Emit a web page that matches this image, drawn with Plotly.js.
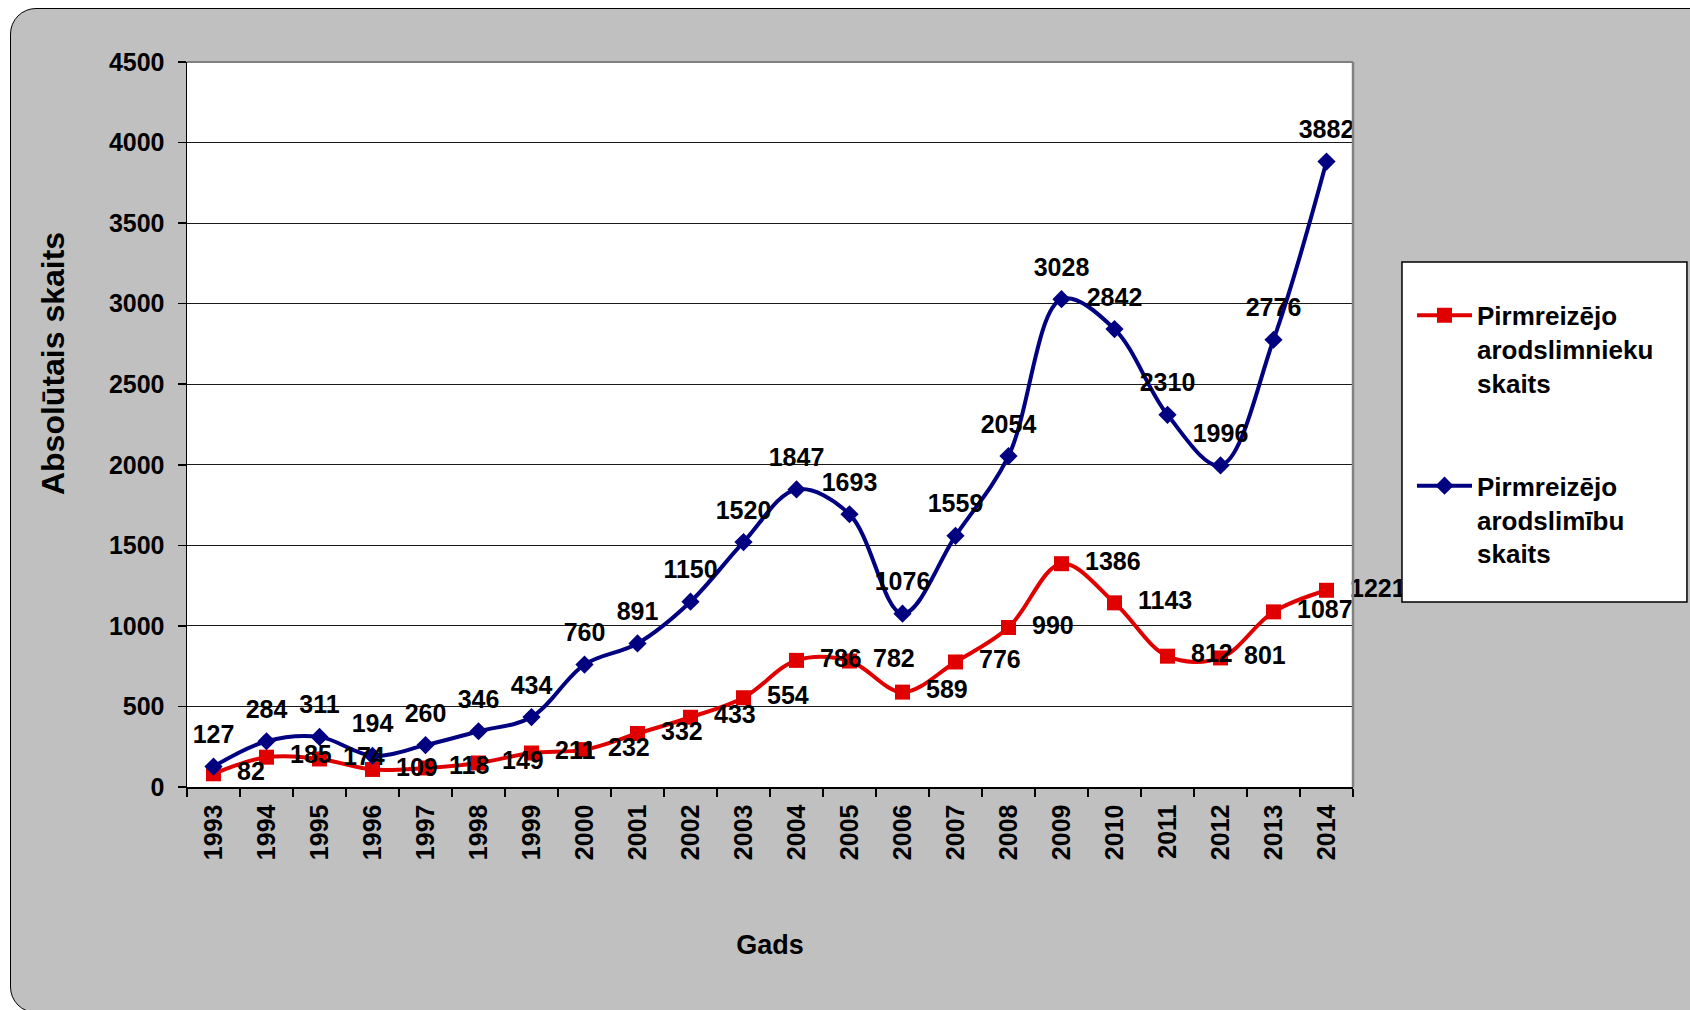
<!DOCTYPE html>
<html>
<head>
<meta charset="utf-8">
<script src="https://cdn.plot.ly/plotly-3.0.1.min.js"></script>
<style>
  html, body { margin: 0; padding: 0; background: #ffffff; overflow: hidden; width: 1690px; height: 1010px; }
  #frame { position: absolute; left: 10px; top: 8px; width: 1720px; height: 1003px; background: #C0C0C0; border: 1.5px solid #000; border-radius: 26px; }
  #chart { position: absolute; left: 0; top: 0; width: 1690px; height: 1010px; }
</style>
</head>
<body>
<div id="frame"></div>
<div id="chart"></div>
<script>
// Data
const years = ['1993','1994','1995','1996','1997','1998','1999','2000','2001','2002','2003',
               '2004','2005','2006','2007','2008','2009','2010','2011','2012','2013','2014'];
const arodslimniekuSkaits = [82,185,174,109,118,149,211,232,332,433,554,786,782,589,776,990,1386,1143,812,801,1087,1221];
const arodslimibuSkaits = [127,284,311,194,260,346,434,760,891,1150,1520,1847,1693,1076,1559,2054,3028,2842,2310,1996,2776,3882];
const seriesNames = ['Pirmreizējo<br>arodslimnieku<br>skaits', 'Pirmreizējo<br>arodslimību<br>skaits'];
const yTicks = [0,500,1000,1500,2000,2500,3000,3500,4000,4500];

const FAM = '"Liberation Sans", Arial, Helvetica, sans-serif';
const bold = (size) => ({family: FAM, size: size, color: '#000000', weight: 'bold'});
const RED = '#E00000', BLUE = '#000080';

const traceRed = {
  type: 'scatter', mode: 'lines+markers',
  x: years, y: arodslimniekuSkaits,
  name: seriesNames[0], legendgroup: 'a',
  line: {color: RED, width: 4, shape: 'spline', smoothing: 1},
  marker: {symbol: 'square', size: 15, color: RED},
  hoverinfo: 'x+y'
};
const traceBlue = {
  type: 'scatter', mode: 'lines+markers',
  x: years, y: arodslimibuSkaits,
  name: seriesNames[1], legendgroup: 'b',
  line: {color: BLUE, width: 4, shape: 'spline', smoothing: 1},
  marker: {symbol: 'diamond', size: 14, color: BLUE},
  hoverinfo: 'x+y'
};
// Data labels (same data; invisible markers only set the label offset)
const labelsRed = {
  type: 'scatter', mode: 'text+markers', x: years, y: arodslimniekuSkaits,
  text: arodslimniekuSkaits.map(String), textposition: 'middle right',
  textfont: bold(25), marker: {size: 36, opacity: 0, color: RED},
  cliponaxis: false, showlegend: false, hoverinfo: 'skip'
};
const labelsBlue = {
  type: 'scatter', mode: 'text+markers', x: years, y: arodslimibuSkaits,
  text: arodslimibuSkaits.map(String), textposition: 'top center',
  textfont: bold(25), marker: {size: 26, opacity: 0, color: BLUE},
  cliponaxis: false, showlegend: false, hoverinfo: 'skip'
};

const layout = {
  width: 1690, height: 1010, autosize: false,
  margin: {l: 187, r: 337, t: 62, b: 223, pad: 0},
  paper_bgcolor: 'rgba(0,0,0,0)', plot_bgcolor: '#ffffff',
  font: {family: FAM, color: '#000000', weight: 'bold'},
  showlegend: true,
  xaxis: {
    type: 'category', range: [-0.5, 21.5], tickson: 'boundaries',
    ticks: 'outside', ticklen: 8, tickwidth: 1.5, tickcolor: '#000000',
    showline: true, linecolor: '#000000', linewidth: 1.5, showgrid: false,
    tickangle: -90, tickfont: bold(25), ticklabelstandoff: 6,
    title: {text: 'Gads', font: bold(27), standoff: 76}
  },
  yaxis: {
    range: [0, 4500], tickvals: yTicks, ticktext: yTicks.map(String),
    ticks: 'outside', ticklen: 8, tickwidth: 1.5, tickcolor: '#000000',
    showline: true, linecolor: '#000000', linewidth: 1.5,
    showgrid: true, gridcolor: '#1a1a1a', gridwidth: 1, zeroline: false,
    tickfont: bold(25), ticklabelstandoff: 8
  },
  legend: {
    x: 1.0506, xanchor: 'left', y: 0.683, yanchor: 'top',
    bgcolor: 'rgba(0,0,0,0)', borderwidth: 0,
    font: bold(26), valign: 'top', itemwidth: 55,
    traceorder: 'grouped', tracegroupgap: 66
  },
  shapes: [
    {type: 'line', xref: 'paper', yref: 'paper', x0: 0, x1: 1, y0: 1, y1: 1, line: {color: '#808080', width: 2}, layer: 'above'},
    {type: 'line', xref: 'paper', yref: 'paper', x0: 1, x1: 1, y0: 0, y1: 1, line: {color: '#808080', width: 2.5}, layer: 'above'},
    {type: 'rect', xref: 'paper', yref: 'paper', x0: 1.0420, x1: 1.2864, y0: 0.2552, y1: 0.7241,
     fillcolor: '#ffffff', line: {color: '#000000', width: 1.5}, layer: 'above'}
  ],
  annotations: [
    {text: 'Absolūtais skaits', xref: 'paper', yref: 'paper', x: -0.1149, y: 0.5834,
     xanchor: 'center', yanchor: 'middle', textangle: -90, showarrow: false, font: bold(32)}
  ]
};

Plotly.newPlot('chart', [traceRed, traceBlue, labelsRed, labelsBlue], layout, {displayModeBar: false, staticPlot: true});
</script>
</body>
</html>
